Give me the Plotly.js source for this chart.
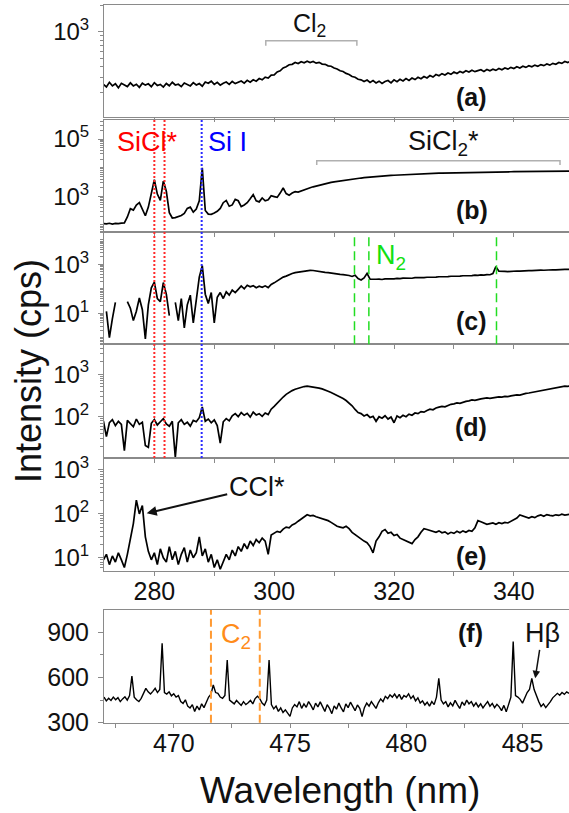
<!DOCTYPE html>
<html><head><meta charset="utf-8">
<script src="https://cdn.plot.ly/plotly-3.0.1.min.js"></script>
<style>html,body{margin:0;padding:0;overflow:hidden;background:#fff}</style>
</head><body><div id="chart" style="width:569px;height:813px"></div>
<script>
// ---- wavelength grids ----
const uvStart = 271.5, uvStep = 0.5;   // panels (a)-(e)
const visStart = 467.0, visStep = 0.1; // panel (f)

// ---- spectra (cps) ----
const intensityA = [
250,234,264,240,254,228,257,244,236,260,
240,251,231,258,245,254,235,261,243,250,
233,256,241,264,246,251,236,259,248,240,
262,246,255,238,266,258,272,250,264,245,
258,266,250,270,255,264,273,258,278,265,
282,272,292,282,302,296,320,322,347,358,
386,398,420,425,446,434,456,443,462,446,
458,438,448,428,425,408,404,386,376,358,
352,334,325,308,302,286,282,270,280,263,
276,260,272,256,270,277,260,282,268,286,
274,292,278,296,284,302,290,308,296,316,
303,324,314,332,320,338,326,347,334,352,
340,358,346,364,350,360,368,352,370,358,
374,362,380,368,386,374,392,380,398,386,
404,392,410,398,416,404,422,410,428,416,
436,426,446,436,458,446,464];
const intensityB = [
112,110,115,108,113,111,116,118,190,370,
330,500,600,330,210,420,1400,3800,1200,720,
3400,1500,270,175,180,195,215,255,380,420,
280,360,700,9800,320,240,235,260,300,380,
600,720,450,500,780,700,440,500,600,820,
1150,700,640,880,700,760,1050,980,920,1300,
1950,1250,1100,1300,1450,1400,1550,1700,1850,2000,
2150,2300,2450,2600,2750,2900,3050,3200,3330,3460,
3590,3720,3850,3980,4100,4230,4350,4460,4580,4690,
4800,4900,5000,5100,5200,5280,5360,5440,5520,5600,
5670,5740,5800,5870,5930,6000,6060,6120,6180,6240,
6300,6350,6400,6450,6500,6550,6600,6640,6680,6720,
6760,6790,6830,6860,6890,6920,6950,6980,7010,7030,
7060,7080,7110,7130,7150,7180,7200,7220,7240,7260,
7280,7300,7320,7340,7360,7380,7400,7420,7440,7450,
7470,7490,7500,7520,7540,7550,7570];
const intensityC = [
null,12,1.0,6,28,null,9,null,30,16,
5,12,42,14,0.9,22,110,185,40,30,
180,60,8,null,28,5,40,2.5,22,55,
4,28,300,880,60,25,70,4,45,70,
40,75,55,88,70,95,130,100,140,120,
135,110,128,115,132,112,150,175,210,250,
300,330,380,420,460,480,510,540,555,570,
560,545,520,500,470,455,430,420,400,390,
380,370,350,320,360,260,230,280,430,250,
240,245,250,240,255,250,262,255,268,260,
272,266,278,270,285,278,290,284,296,290,
302,298,310,304,318,312,326,320,335,328,
342,336,350,345,360,352,370,362,380,375,
420,800,520,500,515,505,525,518,535,528,
545,540,555,548,565,560,578,572,590,585,
600,596,615,608,625,620,640];
const intensityD = [
80,34,72,85,62,78,66,16,82,70,
58,88,66,74,21,19,70,86,64,76,
90,68,60,78,11,72,85,66,74,60,
82,76,95,170,78,88,72,84,62,24,
76,90,80,105,118,100,125,108,120,98,
128,110,118,102,122,112,150,175,210,250,
290,335,375,410,440,468,490,510,520,512,
500,488,470,450,430,395,370,345,318,295,
268,240,212,180,148,125,118,104,112,96,
102,78,100,92,105,88,98,72,104,95,
108,100,115,108,122,118,132,128,140,150,
145,160,168,175,170,185,195,200,210,205,
218,228,235,248,242,255,262,268,275,270,
282,285,292,288,300,295,308,318,326,322,
340,352,360,372,385,398,410,422,438,455,
468,480,492,508,520,515,530];
const intensityE = [
9,12,7,11,8,13,9,6,12,25,
60,205,100,155,30,14,9,13,7,16,
10,8,18,9,14,7,12,17,8,15,
10,13,30,11,16,8,12,6,9,5.5,
8,12,9,15,11,18,14,21,16,24,
19,26,22,28,24,12,33,36,40,38,
45,50,48,56,60,68,75,85,95,90,
92,86,82,78,74,70,64,58,52,50,
48,52,46,38,34,30,26,24,22,18,
13,24,30,40,44,36,38,32,34,28,
26,24,22,21,26,30,38,46,44,42,
40,38,41,37,39,35,38,36,40,37,
41,38,42,40,48,70,66,62,58,60,
62,58,63,60,64,62,68,72,80,94,
90,84,80,86,82,90,94,88,96,92,
90,95,92,98,94,96,98];
const intensityF = [
470,445,462,448,470,452,466,440,458,472,
450,480,610,470,452,440,462,500,528,505,
490,508,528,500,520,827,500,490,505,478,
492,470,480,440,428,452,410,398,420,375,
410,385,425,400,432,470,490,550,500,495,
470,462,480,716,450,440,425,448,430,415,
440,420,432,448,425,460,476,460,430,415,
450,716,420,392,410,375,398,368,385,360,
342,398,420,405,440,395,425,402,440,415,
385,430,405,438,400,375,420,395,360,412,
390,430,398,372,425,400,436,405,380,418,
395,340,400,430,410,440,415,395,432,458,
440,475,460,485,470,490,465,488,455,480,
470,492,460,478,445,465,430,445,418,436,
410,440,420,470,594,450,425,440,405,432,
412,448,420,395,438,415,450,425,440,410,
432,405,425,398,420,440,410,428,400,422,
405,380,415,372,420,470,838,480,470,455,
430,462,500,520,594,520,476,440,408,425,
400,418,440,465,478,495,482,500,488,505,
495];

// ---- reference lines / bands (nm) ----
const siclLines = [280.0, 281.7];
const siLines = [287.9];
const n2Lines = [313.4, 315.8, 337.1];
const c2Lines = [471.6, 473.7];
const cl2Band = [298.6, 313.8];
const sicl2Band = [307.1, 347.7];

// ---- tick labels (labelled decades per log panel) ----
const panelLetters = ['(a)','(b)','(c)','(d)','(e)','(f)'];
const decadesA = [3],       labelA = ['10<sup>3</sup>'];
const decadesB = [3, 5],    labelB = ['10<sup>3</sup>', '10<sup>5</sup>'];
const decadesC = [1, 3],    labelC = ['10<sup>1</sup>', '10<sup>3</sup>'];
const decadesD = [2, 3],    labelD = ['10<sup>2</sup>', '10<sup>3</sup>'];
const decadesE = [1, 2, 3], labelE = ['10<sup>1</sup>', '10<sup>2</sup>', '10<sup>3</sup>'];

// ---- layout geometry (pixels) ----
const W = 569, H = 813, L = 104, R = 569;
const FONT = 'Liberation Sans, Arial, sans-serif';
const AX = '#8a8a8a';
function px(p){ return (p - L) / (R - L); }
function py(p){ return 1 - p / H; }
function dom(top, bottom){ return [py(bottom), py(top)]; }

const logPanels = [
  {y: intensityA, top: 5,     bottom: 117,   range: [2.023, 3.31], dec: decadesA, labels: labelA},
  {y: intensityB, top: 120,   bottom: 232.3, range: [1.745, 5.663], dec: decadesB, labels: labelB},
  {y: intensityC, top: 232.3, bottom: 344.3, range: [-0.27, 4.31], dec: decadesC, labels: labelC},
  {y: intensityD, top: 344.3, bottom: 458,   range: [1.03, 3.70], dec: decadesD, labels: labelD},
  {y: intensityE, top: 458,   bottom: 571,   range: [0.70, 3.27], dec: decadesE, labels: labelE}
];

function minorTicks(labelled){
  const out = [];
  [-1,0,1,2,3,4,5].forEach(k => {
    if (labelled.indexOf(k) < 0) out.push(Math.pow(10, k));
    for (let m = 2; m <= 9; m++) out.push(m * Math.pow(10, k));
  });
  return out;
}

const traces = [];
const layout = {
  width: W, height: H, margin: {l: L, r: W - R, t: 0, b: 0},
  paper_bgcolor: '#fff', plot_bgcolor: '#fff', showlegend: false,
  font: {family: FONT, color: '#111'},
  shapes: [], annotations: []
};

logPanels.forEach((p, i) => {
  const n = i + 1, sfx = n === 1 ? '' : String(n);
  traces.push({type: 'scatter', mode: 'lines', x0: uvStart, dx: uvStep, y: p.y,
    xaxis: 'x' + sfx, yaxis: 'y' + sfx, line: {color: '#000', width: 1.7}, hoverinfo: 'skip'});
  const xa = {
    domain: [0, 1], anchor: 'y' + sfx, range: [271.6, 349.2],
    showline: true, mirror: true, linecolor: AX, linewidth: 1,
    ticks: 'outside', ticklen: 4, tickcolor: AX, tick0: 0, dtick: 20,
    minor: {dtick: 10, tick0: 0, ticks: 'outside', ticklen: 4, tickcolor: AX},
    showticklabels: i === 4, tickfont: {size: 25, color: '#111', family: FONT},
    showgrid: false, zeroline: false
  };
  if (i === 4) xa.ticklabelstandoff = -6;
  layout['xaxis' + sfx] = xa;
  layout['yaxis' + sfx] = {
    domain: dom(p.top, p.bottom), anchor: 'x' + sfx, type: 'log', range: p.range,
    tickmode: 'array', tickvals: p.dec.map(k => Math.pow(10, k)), ticktext: p.labels,
    showline: true, mirror: false, linecolor: AX, linewidth: 1,
    ticks: 'outside', ticklen: 5, tickcolor: AX, ticklabelstandoff: 4,
    minor: {tickmode: 'array', tickvals: minorTicks(p.dec), ticks: 'outside', ticklen: 3, tickcolor: AX},
    tickfont: {size: 24, color: '#111', family: FONT},
    showgrid: false, zeroline: false
  };
});

traces.push({type: 'scatter', mode: 'lines', x0: visStart, dx: visStep, y: intensityF,
  xaxis: 'x6', yaxis: 'y6', line: {color: '#000', width: 1.4}, hoverinfo: 'skip'});
layout.xaxis6 = {
  domain: [0, 1], anchor: 'y6', range: [467, 487],
  showline: true, mirror: true, linecolor: AX, linewidth: 1,
  ticks: 'outside', ticklen: 4, tickcolor: AX, tick0: 0, dtick: 5, ticklabelstandoff: -6,
  minor: {dtick: 2.5, tick0: 0, ticks: 'outside', ticklen: 4, tickcolor: AX},
  tickfont: {size: 25, color: '#111', family: FONT}, showgrid: false, zeroline: false
};
layout.yaxis6 = {
  domain: dom(610, 722.7), anchor: 'x6', range: [300, 1048],
  showline: true, mirror: false, linecolor: AX, linewidth: 1,
  ticks: 'outside', ticklen: 5, tickcolor: AX, tick0: 0, dtick: 300, ticklabelstandoff: 4,
  minor: {dtick: 150, tick0: 0, ticks: 'outside', ticklen: 3, tickcolor: AX},
  tickfont: {size: 25, color: '#111', family: FONT}, showgrid: false, zeroline: false
};

// vertical marker lines
function vline(x, xref, top, bottom, color, dash, width){
  layout.shapes.push({type: 'line', xref: xref, yref: 'paper', x0: x, x1: x,
    y0: py(bottom), y1: py(top), line: {color: color, width: width, dash: dash}});
}
siclLines.forEach(x => vline(x, 'x2', 120, 458, '#ff2a2a', '2px,2px', 2));
siLines.forEach(x => vline(x, 'x2', 120, 458, '#2a2aff', '2px,2px', 2));
n2Lines.forEach(x => vline(x, 'x3', 232.3, 344.3, '#22dd22', '9px,5px', 1.5));
c2Lines.forEach(x => vline(x, 'x6', 610, 722.7, '#ff9a33', '8px,4px', 2));

// brackets
function bracket(band, xref, yTop, yEnd){
  layout.shapes.push({type: 'path', xref: xref, yref: 'paper',
    path: `M ${band[0]},${py(yEnd)} L ${band[0]},${py(yTop)} L ${band[1]},${py(yTop)} L ${band[1]},${py(yEnd)}`,
    line: {color: '#b0b0b0', width: 1.5}});
}
bracket(cl2Band, 'x', 40.7, 45.7);
bracket(sicl2Band, 'x2', 160.7, 165);

// text labels
function txt(text, x, y, size, color, extra){
  layout.annotations.push(Object.assign({text: text, xref: 'paper', yref: 'paper',
    x: px(x), y: py(y), xanchor: 'center', yanchor: 'middle', showarrow: false,
    font: {size: size, color: color || '#111', family: FONT}}, extra || {}));
}
txt('Cl<sub>2</sub>', 309, 25, 25);
txt('SiCl*', 147.5, 142, 27, '#ff0000');
txt('Si I', 227.5, 142, 27, '#0000ff');
txt('SiCl<sub>2</sub>*', 443.6, 143, 27);
txt('N<sub>2</sub>', 391, 257, 27, '#11e011');
txt('C<sub>2</sub>', 236, 636, 27, '#ff8c1a');
const letterY = [97, 210, 321, 427, 556, 633];
const letterX = [471.7, 471.7, 471, 471, 471, 470];
panelLetters.forEach((t, i) => txt('<b>' + t + '</b>', letterX[i], letterY[i], 25));
// labels with arrows (text placed at tail, arrow head on the band)
layout.annotations.push({xref: 'paper', yref: 'paper', x: px(146.7), y: py(513.3), text: 'CCl*',
  showarrow: true, ax: 110, ay: -26, standoff: 0, startstandoff: 0,
  arrowhead: 2, arrowsize: 1, arrowwidth: 2, arrowcolor: '#111',
  font: {size: 27, color: '#111', family: FONT}});
layout.annotations.push({xref: 'paper', yref: 'paper', x: px(535.2), y: py(678.3), text: 'H\u03b2',
  showarrow: true, ax: 7, ay: -45, arrowhead: 2, arrowsize: 1, arrowwidth: 1.5, arrowcolor: '#111',
  font: {size: 27, color: '#111', family: FONT}});
// axis titles
txt('Intensity (cps)', 28, 371, 36, '#111', {textangle: -90});
txt('Wavelength (nm)', 340, 790, 37);

Plotly.newPlot('chart', traces, layout, {staticPlot: true, displayModeBar: false});
</script>
</body></html>
